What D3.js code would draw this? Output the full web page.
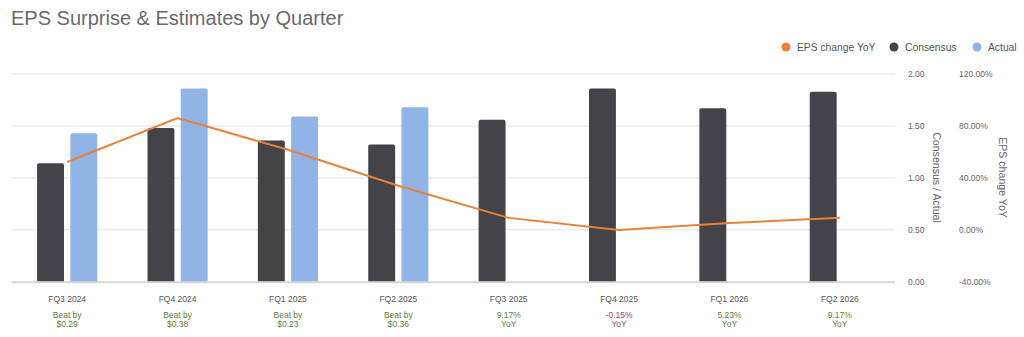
<!DOCTYPE html>
<html>
<head>
<meta charset="utf-8">
<script src="https://cdn.jsdelivr.net/npm/d3@7/dist/d3.min.js"></script>
<style>
  html, body { margin: 0; padding: 0; background: #fff; }
  svg { display: block; font-family: "Liberation Sans", Arial, sans-serif; }
</style>
</head>
<body>
<svg id="chart" width="1024" height="337"></svg>
<script>
// ---- data ----
const categories = ["FQ3 2024", "FQ4 2024", "FQ1 2025", "FQ2 2025", "FQ3 2025", "FQ4 2025", "FQ1 2026", "FQ2 2026"];
const consensus = [1.14, 1.48, 1.36, 1.32, 1.56, 1.86, 1.67, 1.83];
const actual = [1.43, 1.86, 1.59, 1.68, null, null, null, null];
const epsChangeYoY = [52.2, 86.1, 61.6, 33.9, 9.17, -0.15, 5.23, 9.17];
const noteTop = ["Beat by", "Beat by", "Beat by", "Beat by", "9.17%", "-0.15%", "5.23%", "9.17%"];
const noteBottom = ["$0.29", "$0.38", "$0.23", "$0.36", "YoY", "YoY", "YoY", "YoY"];
const noteNegative = [false, false, false, false, false, true, false, false];
const leftTicks = [0, 0.5, 1, 1.5, 2];
const rightTicks = [-40, 0, 40, 80, 120];
const seriesNames = ["EPS change YoY", "Consensus", "Actual"];

// ---- styles ----
const colors = { "EPS change YoY": "#e8823a", "Consensus": "#434348", "Actual": "#90b4e6" };
const svg = d3.select("#chart");
const plotLeft = 12, plotRight = 895, plotTop = 74, plotBottom = 281.7;

const x0 = d3.scaleBand().domain(categories).range([plotLeft, plotRight]).paddingInner(0.455).paddingOuter(0.2275);
const x1 = d3.scaleBand().domain(["Consensus", "Actual"]).range([0, x0.bandwidth()]).paddingInner(0.19);
const yL = d3.scaleLinear().domain([0, 2]).range([plotBottom, plotTop]);
const yR = d3.scaleLinear().domain([-40, 120]).range([plotBottom, plotTop]);

// title
svg.append("text").attr("x", 11).attr("y", 25).attr("font-size", 20).attr("fill", "#6a6a6a")
  .text("EPS Surprise & Estimates by Quarter");

// gridlines
svg.append("g").selectAll("line").data(leftTicks.filter(d => d > 0)).join("line")
  .attr("x1", plotLeft).attr("x2", plotRight).attr("y1", d => yL(d)).attr("y2", d => yL(d))
  .attr("stroke", "#e3e3e3").attr("stroke-width", 1);

// axes labels
const axL = svg.append("g").attr("transform", `translate(905,0)`)
  .call(d3.axisRight(yL).tickValues(leftTicks).tickSize(0).tickPadding(3).tickFormat(d3.format(".2f")));
const axR = svg.append("g").attr("transform", `translate(956,0)`)
  .call(d3.axisRight(yR).tickValues(rightTicks).tickSize(0).tickPadding(3).tickFormat(d => d.toFixed(2) + "%"));
[axL, axR].forEach(a => {
  a.select(".domain").remove();
  a.selectAll("text").attr("font-size", 8.5).attr("fill", "#666").attr("font-family", "Liberation Sans, Arial, sans-serif");
});

// axis titles
svg.append("text").attr("transform", `translate(933,177.5) rotate(90)`).attr("text-anchor", "middle")
  .attr("font-size", 10.6).attr("fill", "#666").text("Consensus / Actual");
svg.append("text").attr("transform", `translate(999,177.5) rotate(90)`).attr("text-anchor", "middle")
  .attr("font-size", 10.6).attr("fill", "#666").text("EPS change YoY");

// bars
function topRounded(x, y, w, h, r) {
  r = Math.min(r, h, w / 2);
  return `M${x},${y + h}V${y + r}Q${x},${y} ${x + r},${y}H${x + w - r}Q${x + w},${y} ${x + w},${y + r}V${y + h}Z`;
}
const barData = [];
categories.forEach((c, i) => {
  barData.push({ cat: c, key: "Consensus", v: consensus[i] });
  if (actual[i] != null) barData.push({ cat: c, key: "Actual", v: actual[i] });
});
svg.append("g").selectAll("path").data(barData).join("path")
  .attr("d", d => topRounded(x0(d.cat) + x1(d.key), yL(d.v), x1.bandwidth(), yL(0) - yL(d.v), 2))
  .attr("fill", d => colors[d.key]);

// baseline
svg.append("line").attr("x1", plotLeft).attr("x2", plotRight).attr("y1", plotBottom + 0.5).attr("y2", plotBottom + 0.5)
  .attr("stroke", "#d6d6d6").attr("stroke-width", 2);

// line
const line = d3.line().x((d, i) => x0(categories[i]) + x0.bandwidth() / 2).y(d => yR(d));
svg.append("path").datum(epsChangeYoY).attr("d", line).attr("fill", "none")
  .attr("stroke", colors["EPS change YoY"]).attr("stroke-width", 2);

// category labels and notes
const cx = c => x0(c) + x0.bandwidth() / 2;
const lab = svg.append("g").attr("text-anchor", "middle").attr("font-size", 8.5);
lab.selectAll("text.cat").data(categories).join("text").attr("class", "cat")
  .attr("x", cx).attr("y", 302).attr("fill", "#555").text(d => d);
lab.selectAll("text.n1").data(categories).join("text").attr("class", "n1")
  .attr("x", cx).attr("y", 318).attr("fill", (d, i) => noteNegative[i] ? "#a8455c" : "#5c7f3c").text((d, i) => noteTop[i]);
lab.selectAll("text.n2").data(categories).join("text").attr("class", "n2")
  .attr("x", cx).attr("y", 327).attr("fill", (d, i) => noteNegative[i] ? "#a8455c" : "#5c7f3c").text((d, i) => noteBottom[i]);

// legend
const legendX = [786, 894, 977];
const lg = svg.append("g").selectAll("g").data(seriesNames).join("g")
  .attr("transform", (d, i) => `translate(${legendX[i]},47)`);
lg.append("circle").attr("r", 4.5).attr("fill", d => colors[d]);
lg.append("text").attr("x", 11).attr("dy", "0.35em").attr("font-size", 10.3).attr("fill", "#555").text(d => d);
</script>
</body>
</html>
